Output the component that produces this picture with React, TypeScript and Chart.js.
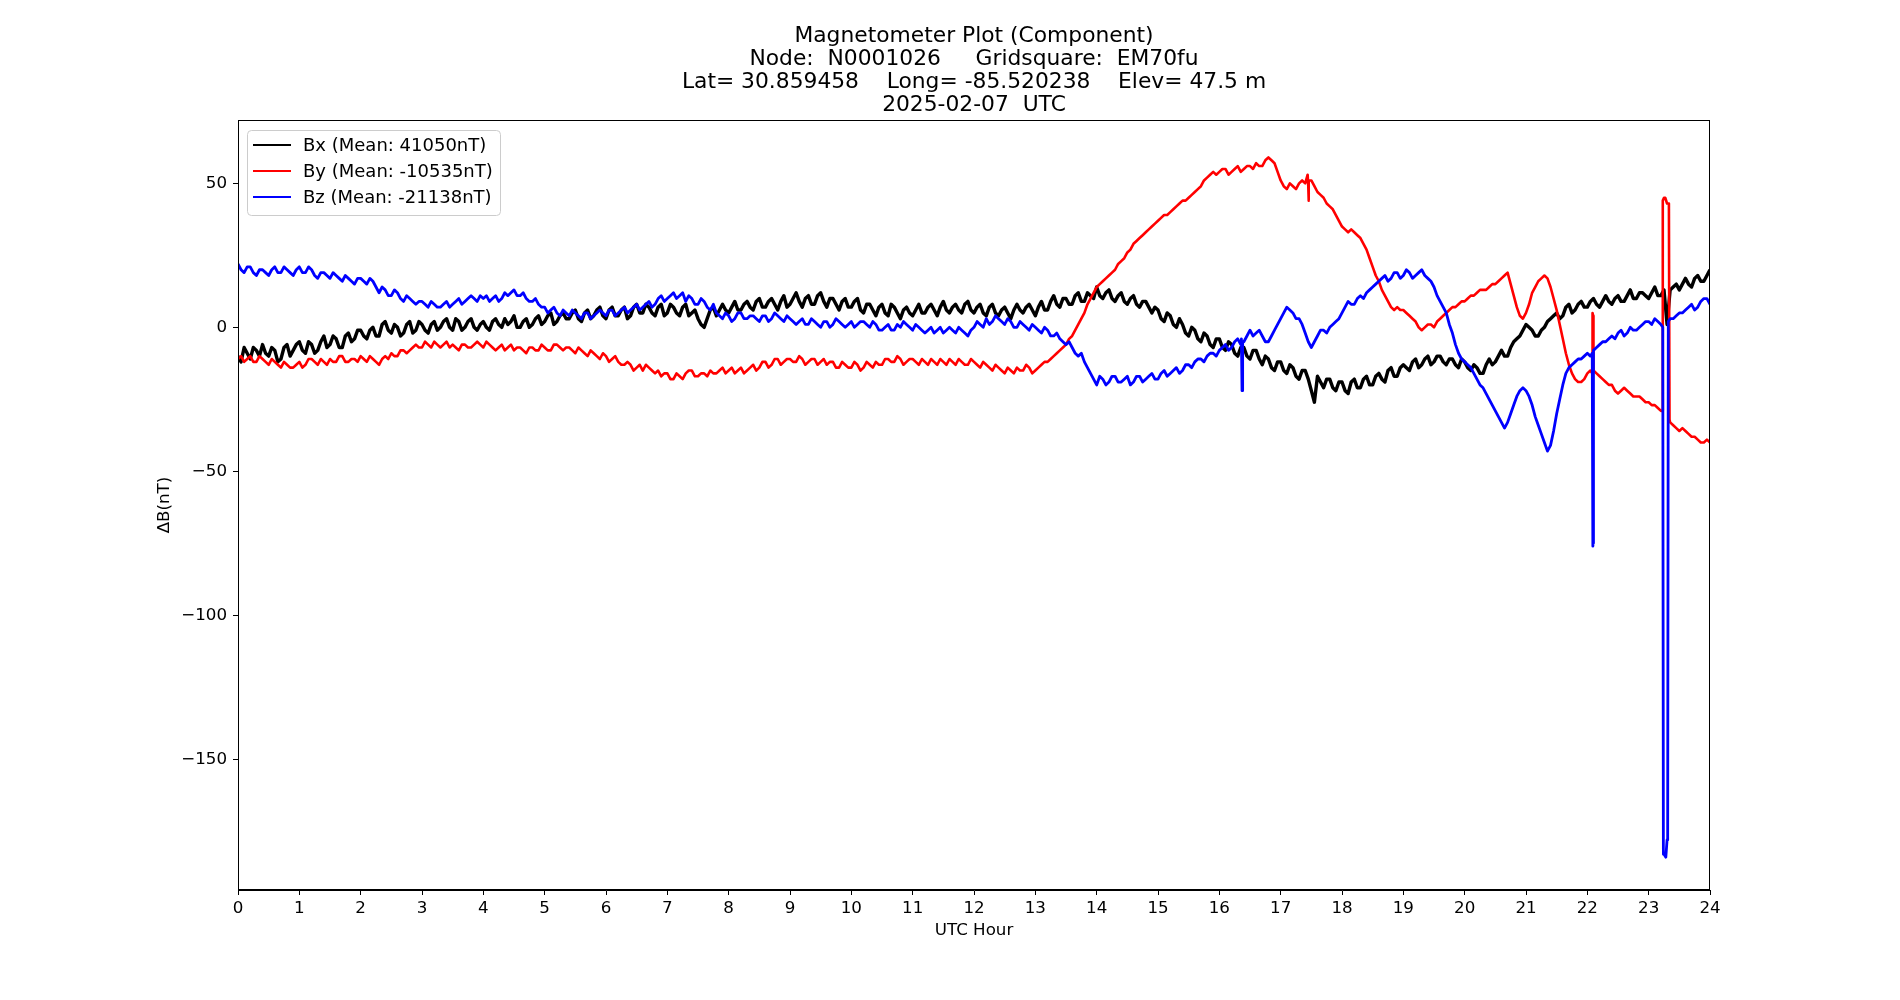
import React, { useEffect, useRef } from "react";
import { Chart, registerables } from "chart.js";

Chart.register(...registerables);

const TITLE_LINES = [
  "Magnetometer Plot (Component)",
  "Node:  N0001026     Gridsquare:  EM70fu",
  "Lat= 30.859458    Long= -85.520238    Elev= 47.5 m",
  "2025-02-07  UTC",
];

const SERIES_LABELS = ["Bx (Mean: 41050nT)", "By (Mean: -10535nT)", "Bz (Mean: -21138nT)"];
const SERIES_COLORS = ["#000000", "#ff0000", "#0000ff"];
const SERIES_WIDTHS = [3.4, 2.6, 2.8];

const X_TICKS = [0, 1, 2, 3, 4, 5, 6, 7, 8, 9, 10, 11, 12, 13, 14, 15, 16, 17, 18, 19, 20, 21, 22, 23, 24];
const Y_TICKS = [-150, -100, -50, 0, 50];
const Y_MIN = -195.4;
const Y_MAX = 72;
const STEP_HOURS = 0.1;

// Bx samples at 0.0, 0.1, ... 24.0 h
const bxValues = [
  -10, -7, -11, -8, -6, -10, -8, -11, -6, -8,
  -5, -9, -6, -8, -3, -6, -4, -7, -2, -4,
  -1, -4, 0, -3, 2, -2, 0, -2, 2, -1,
  1, -2, 2, 0, 3, -1, 2, 0, 3, -1,
  2, -1, 3, 0, 1, 4, 0, 3, 1, 4,
  2, 5, 2, 5, 3, 6, 2, 6, 4, 7,
  3, 7, 4, 7, 4, 8, 5, 7, 4, 8,
  5, 7, 4, 8, 5, 3, 0, 6, 4, 8,
  5, 9, 6, 9, 6, 10, 7, 10, 6, 11,
  8, 12, 7, 11, 8, 12, 7, 10, 6, 10,
  7, 10, 5, 8, 4, 8, 4, 7, 3, 7,
  4, 8, 5, 8, 4, 9, 5, 8, 5, 9,
  5, 8, 4, 8, 4, 7, 3, 8, 5, 8,
  4, 9, 6, 11, 7, 10, 8, 12, 9, 11,
  14, 10, 13, 9, 12, 8, 11, 7, 9, 5,
  6, 2, 4, 0, 1, -3, -1, -5, -3, -7,
  -4, -8, -6, -10, -7, -11, -8, -13, -11, -15,
  -12, -16, -14, -18, -15, -22, -17, -21, -18, -22,
  -19, -23, -18, -21, -17, -20, -16, -19, -14, -17,
  -13, -15, -11, -13, -10, -12, -10, -13, -11, -14,
  -12, -15, -14, -16, -11, -12, -8, -10, -5, -3,
  1, -1, -3, 0, 3, 5, 4, 8, 6, 9,
  7, 10, 7, 11, 8, 11, 9, 13, 10, 12,
  10, 14, 11, 1, 14, 13, 17, 14, 18, 16,
  20,
];
// Bx samples at 0.05, 0.15, ... 23.95 h
const bxMidValues = [
  -12, -9, -7, -10, -9, -7, -12, -7, -10, -6,
  -8, -5, -9, -5, -7, -3, -7, -3, -5, -1,
  -3, -1, -3, 1, -1, 1, -3, 1, -2, 2,
  -1, 1, -1, 2, 0, 3, -1, 2, 0, 1,
  0, 2, 1, 3, 2, 0, 2, 0, 3, 1,
  4, 1, 4, 3, 5, 3, 5, 3, 6, 4,
  6, 4, 6, 3, 7, 5, 8, 5, 7, 4,
  8, 5, 7, 4, 6, 1, 3, 7, 6, 6,
  7, 6, 8, 7, 9, 7, 9, 8, 9, 7,
  10, 9, 10, 8, 11, 9, 10, 8, 9, 7,
  9, 6, 8, 6, 7, 5, 8, 5, 6, 5,
  6, 5, 7, 6, 7, 6, 7, 6, 8, 6,
  7, 5, 7, 5, 6, 5, 6, 6, 7, 6,
  7, 6, 9, 8, 10, 8, 11, 9, 12, 10,
  11, 12, 10, 11, 9, 10, 8, 9, 7, 7,
  3, 5, 1, 3, -2, 0, -4, -2, -6, -4,
  -7, -5, -9, -7, -10, -8, -11, -10, -14, -12,
  -15, -13, -17, -15, -18, -26, -19, -18, -21, -19,
  -22, -19, -21, -18, -20, -17, -18, -15, -17, -14,
  -14, -12, -14, -11, -13, -10, -12, -11, -13, -11,
  -14, -13, -16, -13, -13, -10, -10, -7, -4, -1,
  0, -3, -1, 2, 4, 3, 7, 5, 8, 7,
  9, 8, 9, 9, 10, 9, 11, 10, 12, 11,
  12, 11, 13, 13, 15, 15, 15, 17, 16, 18,
];

// By samples at 0.0, 0.1, ... 24.0 h
const byValues = [
  -11, -12, -10, -12, -11, -13, -12, -14, -13, -14,
  -12, -13, -11, -13, -12, -11, -12, -10, -12, -11,
  -10, -12, -11, -13, -10, -9, -10, -8, -8, -6,
  -7, -6, -5, -7, -5, -6, -8, -6, -7, -5,
  -7, -6, -8, -6, -7, -8, -7, -9, -7, -8,
  -7, -8, -6, -8, -7, -9, -8, -10, -9, -11,
  -10, -11, -12, -13, -13, -14, -15, -14, -16, -17,
  -16, -18, -17, -16, -15, -17, -16, -15, -16, -14,
  -15, -16, -14, -15, -13, -14, -12, -13, -11, -12,
  -11, -12, -11, -12, -11, -12, -13, -12, -14, -13,
  -14, -13, -14, -13, -12, -13, -11, -12, -11, -12,
  -11, -13, -12, -11, -13, -12, -11, -13, -12, -13,
  -12, -14, -13, -15, -14, -16, -15, -14, -15, -14,
  -15, -13, -12, -10, -8, -6, -3, 1, 5, 10,
  14, 16, 18, 20, 23, 26, 29, 31, 33, 35,
  37, 39, 40, 42, 44, 45, 47, 49, 52, 54,
  54, 55, 54, 56, 55, 56, 57, 56, 59, 57,
  51, 48, 49, 50, 50, 51, 47, 45, 42, 39,
  35, 33, 33, 31, 27, 21, 16, 11, 7, 7,
  6, 4, 2, -1, 1, 0, 3, 5, 7, 8,
  9, 11, 12, 13, 14, 15, 17, 19, 11, 4,
  5, 12, 16, 18, 14, 6, -4, -13, -18, -19,
  -16, -15, -17, -19, -20, -23, -21, -23, -24, -25,
  -26, -27, -29, 43, -34, -36, -36, -38, -39, -40,
  -40,
];
// By samples at 0.05, 0.15, ... 23.95 h
const byMidValues = [
  -10, -11, -12, -10, -12, -11, -13, -12, -14, -13,
  -14, -11, -12, -11, -13, -12, -10, -12, -11, -12,
  -11, -10, -12, -11, -11, -10, -8, -9, -7, -7,
  -5, -7, -6, -6, -7, -7, -6, -7, -6, -6,
  -5, -7, -7, -8, -6, -7, -8, -7, -8, -6,
  -8, -6, -7, -7, -8, -7, -9, -8, -10, -9,
  -12, -10, -13, -12, -15, -13, -13, -15, -15, -16,
  -18, -16, -18, -15, -17, -16, -17, -16, -15, -16,
  -14, -15, -16, -14, -15, -12, -14, -11, -13, -11,
  -12, -10, -13, -11, -13, -11, -12, -14, -12, -14,
  -12, -15, -12, -14, -13, -11, -12, -10, -13, -11,
  -12, -11, -13, -12, -11, -13, -12, -11, -13, -11,
  -13, -12, -14, -13, -15, -14, -16, -15, -13, -16,
  -14, -12, -11, -9, -7, -4, -1, 3, 8, 12,
  15, 17, 19, 22, 24, 27, 30, 32, 34, 36,
  38, 39, 41, 43, 44, 46, 48, 51, 53, 53,
  55, 53, 55, 54, 56, 55, 56, 58, 58, 54,
  49, 50, 48, 51, 49, 49, 46, 43, 41, 37,
  34, 34, 32, 29, 24, 18, 13, 9, 6, 6,
  5, 3, 0, 0, 1, 2, 4, 6, 7, 9,
  10, 11, 13, 13, 15, 16, 18, 15, 7, 3,
  8, 14, 17, 17, 10, 1, -9, -16, -19, -18,
  -15, -16, -18, -20, -22, -22, -22, -24, -24, -26,
  -27, -28, 45, -33, -35, -35, -37, -38, -40, -39,
];

// Bz samples at 0.0, 0.1, ... 24.0 h
const bzValues = [
  22, 19, 21, 18, 20, 18, 21, 19, 20, 18,
  21, 19, 20, 17, 19, 17, 18, 16, 17, 15,
  17, 15, 16, 12, 13, 11, 12, 9, 10, 8,
  9, 7, 8, 7, 9, 8, 10, 9, 11, 9,
  10, 9, 11, 10, 11, 13, 11, 10, 9, 8,
  7, 6, 5, 6, 4, 5, 3, 5, 4, 6,
  4, 6, 5, 7, 6, 8, 7, 9, 8, 11,
  10, 12, 11, 9, 10, 8, 9, 6, 5, 3,
  4, 3, 5, 3, 4, 2, 4, 3, 4, 2,
  3, 1, 3, 1, 2, 0, 2, 1, 2, 0,
  2, 1, 2, 0, 1, -1, 1, -1, 0, 1,
  -1, 0, -2, 0, -1, -2, 0, -2, -1, -3,
  0, 1, 3, 2, 3, 1, 2, 0, 1, -1,
  0, -2, -1, -3, -4, -6, -7, -10, -12, -16,
  -20, -18, -19, -17, -19, -17, -19, -17, -18, -16,
  -18, -15, -16, -14, -15, -13, -12, -11, -10, -9,
  -8, -6, -7, -4, -5, -1, -2, -3, -5, -1,
  3, 7, 5, 3, -2, -7, -3, -1, 0, 2,
  5, 9, 8, 11, 12, 14, 16, 18, 17, 19,
  18, 19, 18, 20, 17, 14, 9, 5, -2, -9,
  -12, -14, -18, -21, -25, -29, -33, -33, -27, -22,
  -22, -27, -34, -40, -41, -30, -20, -14, -12, -11,
  -9, -8, -6, -5, -3, -2, -3, 0, -1, 1,
  2, 3, 1, -178, 3, 5, 6, 8, 7, 10,
  8,
];
// Bz samples at 0.05, 0.15, ... 23.95 h
const bzMidValues = [
  20, 21, 19, 20, 19, 20, 19, 21, 19, 20,
  19, 21, 18, 19, 18, 19, 17, 18, 16, 17,
  16, 17, 14, 14, 11, 13, 10, 11, 9, 9,
  8, 9, 7, 8, 7, 9, 8, 10, 10, 11,
  11, 10, 9, 12, 12, 11, 12, 9, 10, 7,
  5, 7, 4, 5, 6, 4, 5, 3, 5, 5,
  6, 4, 6, 5, 7, 6, 8, 7, 10, 9,
  11, 10, 12, 11, 8, 10, 7, 8, 4, 5,
  2, 5, 3, 4, 3, 4, 2, 5, 3, 4,
  2, 2, 1, 3, 1, 2, 0, 3, 1, 1,
  0, 2, 1, 2, -1, 0, -1, 1, 2, 0,
  1, -1, -1, -2, 0, -1, -1, 0, -2, -1,
  2, 0, 1, 4, 2, 3, 0, 2, 0, 1,
  -1, 0, -3, -2, -5, -5, -9, -9, -14, -18,
  -17, -20, -17, -19, -18, -20, -17, -19, -17, -18,
  -16, -17, -15, -16, -13, -14, -11, -12, -9, -10,
  -7, -8, -5, -6, -3, -3, -1, -5, -3, 1,
  5, 6, 3, 1, -5, -5, -1, -2, 1, 3,
  7, 8, 10, 10, 13, 15, 17, 16, 19, 17,
  20, 17, 19, 18, 16, 11, 7, 1, -6, -11,
  -13, -16, -20, -23, -27, -31, -35, -30, -24, -21,
  -24, -31, -37, -43, -36, -25, -16, -13, -11, -10,
  -10, -7, -5, -4, -4, -1, -2, -1, 0, 2,
  1, 2, -183, 3, 4, 5, 7, 6, 9, 10,
];

// Short spikes between regular samples
const bxSpikeHours: number[] = [];
const bxSpikeValues: number[] = [];
const bySpikeHours = [17.44, 17.455, 17.46, 22.08, 22.085, 22.095, 23.22, 23.23, 23.27, 23.33, 23.34];
const bySpikeValues = [53, 44, 51, -16, 5, 4, -29, 44, 45, 43, -32];
const bzSpikeHours = [16.36, 16.37, 16.38, 22.08, 22.09, 22.095, 23.23, 23.24, 23.28, 23.31, 23.32];
const bzSpikeValues = [-4, -22, -5, -9, -76, -75, 0, -183, -184, -177, 2];

function buildPoints(values: number[], midValues: number[], spikeHours: number[], spikeValues: number[]) {
  const pts: { x: number; y: number }[] = [];
  values.forEach((v, i) => pts.push({ x: Math.round(i * STEP_HOURS * 1000) / 1000, y: v }));
  midValues.forEach((v, i) => pts.push({ x: Math.round((i * STEP_HOURS + STEP_HOURS / 2) * 1000) / 1000, y: v }));
  spikeHours.forEach((h, i) => pts.push({ x: h, y: spikeValues[i] }));
  pts.sort((a, b) => a.x - b.x);
  return pts;
}

const FONT = "'DejaVu Sans', 'Liberation Sans', sans-serif";

const framePlugin = {
  id: "frameBox",
  afterDatasetsDraw(chart: any) {
    const { ctx, chartArea } = chart;
    ctx.save();
    ctx.strokeStyle = "#000";
    ctx.lineWidth = 1;
    ctx.strokeRect(
      Math.round(chartArea.left) + 0.5,
      Math.round(chartArea.top) + 0.5,
      Math.round(chartArea.right - chartArea.left) - 1,
      Math.round(chartArea.bottom - chartArea.top) - 1
    );
    ctx.restore();
  },
};

const boxLegendPlugin = {
  id: "boxLegend",
  afterDraw(chart: any) {
    const { ctx, chartArea } = chart;
    const x0 = chartArea.left + 9.5;
    const y0 = chartArea.top + 10.5;
    const w = 253;
    const h = 85;
    const r = 4;
    ctx.save();
    ctx.beginPath();
    ctx.moveTo(x0 + r, y0);
    ctx.lineTo(x0 + w - r, y0);
    ctx.arcTo(x0 + w, y0, x0 + w, y0 + r, r);
    ctx.lineTo(x0 + w, y0 + h - r);
    ctx.arcTo(x0 + w, y0 + h, x0 + w - r, y0 + h, r);
    ctx.lineTo(x0 + r, y0 + h);
    ctx.arcTo(x0, y0 + h, x0, y0 + h - r, r);
    ctx.lineTo(x0, y0 + r);
    ctx.arcTo(x0, y0, x0 + r, y0, r);
    ctx.closePath();
    ctx.fillStyle = "rgba(255,255,255,0.8)";
    ctx.fill();
    ctx.strokeStyle = "#cccccc";
    ctx.lineWidth = 1;
    ctx.stroke();
    ctx.font = `18px ${FONT}`;
    ctx.textBaseline = "middle";
    ctx.textAlign = "left";
    chart.data.datasets.forEach((ds: any, i: number) => {
      const y = chartArea.top + 25 + i * 26;
      ctx.strokeStyle = ds.borderColor;
      ctx.lineWidth = 2;
      ctx.beginPath();
      ctx.moveTo(chartArea.left + 15, y);
      ctx.lineTo(chartArea.left + 53, y);
      ctx.stroke();
      ctx.fillStyle = "#000";
      ctx.fillText(ds.label, chartArea.left + 65, y + 1);
    });
    ctx.restore();
  },
};

export default function App() {
  const canvasRef = useRef<HTMLCanvasElement | null>(null);

  useEffect(() => {
    document.body.style.margin = "0";
    const canvas = canvasRef.current;
    if (!canvas) return;
    Chart.defaults.font.family = FONT;
    Chart.defaults.color = "#000";

    const datasets = [
      { label: SERIES_LABELS[0], data: buildPoints(bxValues, bxMidValues, bxSpikeHours, bxSpikeValues), borderColor: SERIES_COLORS[0], borderWidth: SERIES_WIDTHS[0], order: 3 },
      { label: SERIES_LABELS[1], data: buildPoints(byValues, byMidValues, bySpikeHours, bySpikeValues), borderColor: SERIES_COLORS[1], borderWidth: SERIES_WIDTHS[1], order: 2 },
      { label: SERIES_LABELS[2], data: buildPoints(bzValues, bzMidValues, bzSpikeHours, bzSpikeValues), borderColor: SERIES_COLORS[2], borderWidth: SERIES_WIDTHS[2], order: 1 },
    ].map((d) => ({
      ...d,
      backgroundColor: d.borderColor,
      pointRadius: 0,
      tension: 0,
      fill: false,
      borderJoinStyle: "round" as const,
    }));

    const chart = new Chart(canvas, {
      type: "line",
      data: { datasets },
      options: {
        animation: false,
        responsive: false,
        devicePixelRatio: 1,
        layout: { padding: { left: 0, right: 190, top: 0, bottom: 0 } },
        plugins: {
          legend: { display: false },
          tooltip: { enabled: false },
          title: {
            display: true,
            text: TITLE_LINES,
            fullSize: false,
            color: "#000",
            font: { family: FONT, size: 21.8, weight: "normal", lineHeight: 23 / 21.8 },
            padding: { top: 25, bottom: 3 },
          },
        },
        scales: {
          x: {
            type: "linear",
            min: 0,
            max: 24,
            afterBuildTicks: (s: any) => {
              s.ticks = X_TICKS.map((v) => ({ value: v }));
            },
            afterFit: (s: any) => {
              s.height = 110;
            },
            grid: { display: true, drawOnChartArea: false, drawTicks: true, tickLength: 5, color: "#000", lineWidth: 1 },
            border: { display: true, color: "#000", width: 1 },
            ticks: {
              color: "#000",
              font: { family: FONT, size: 16.7 },
              padding: 4,
              maxRotation: 0,
              autoSkip: false,
              callback: (v: any) => String(v),
            },
            title: {
              display: true,
              text: "UTC Hour",
              color: "#000",
              font: { family: FONT, size: 16.7 },
              padding: { top: 0, bottom: 59 },
            },
          },
          y: {
            type: "linear",
            min: Y_MIN,
            max: Y_MAX,
            afterBuildTicks: (s: any) => {
              s.ticks = Y_TICKS.map((v) => ({ value: v }));
            },
            afterFit: (s: any) => {
              s.width = 238;
            },
            grid: { display: true, drawOnChartArea: false, drawTicks: true, tickLength: 5, color: "#000", lineWidth: 1 },
            border: { display: true, color: "#000", width: 1 },
            ticks: {
              color: "#000",
              font: { family: FONT, size: 16.7 },
              padding: 6,
              autoSkip: false,
              callback: (v: any) => (v < 0 ? "\u2212" + Math.abs(v) : String(v)),
            },
            title: {
              display: true,
              text: "\u0394B(nT)",
              color: "#000",
              font: { family: FONT, size: 16.7 },
              padding: { top: 155, bottom: 0 },
            },
          },
        },
      },
      plugins: [framePlugin, boxLegendPlugin],
    } as any);

    return () => chart.destroy();
  }, []);

  return (
    <div style={{ width: 1900, height: 1000, background: "#fff" }}>
      <canvas ref={canvasRef} width={1900} height={1000} style={{ display: "block" }} />
    </div>
  );
}
